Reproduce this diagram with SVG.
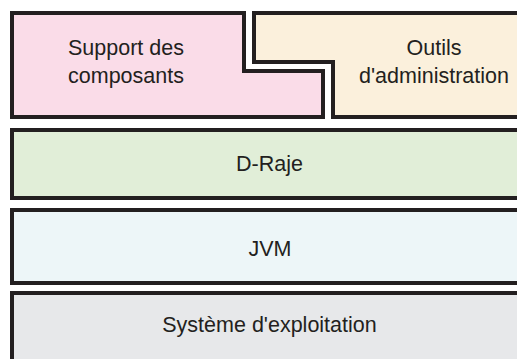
<svg xmlns="http://www.w3.org/2000/svg" width="517" height="359" viewBox="0 0 517 359">
  <style>
    .box { stroke: #231f20; stroke-width: 4; stroke-linejoin: miter; }
    .lbl { font-family: "Liberation Sans", Arial, Helvetica, sans-serif; font-size: 21.5px; fill: #231f20; text-anchor: middle; }
  </style>
  <rect width="517" height="359" fill="#ffffff"/>
  <g id="support-composants">
    <path class="box" fill="#fadce8" d="M12,13 H244 V71 H323 V117 H12 Z"/>
    <text class="lbl" x="126" y="55">Support des</text>
    <text class="lbl" x="126" y="83">composants</text>
  </g>
  <g id="outils-administration">
    <path class="box" fill="#fbf0dc" d="M254,13 H532 V117 H333 V62 H254 Z"/>
    <text class="lbl" x="434" y="55">Outils</text>
    <text class="lbl" x="434" y="83">d'administration</text>
  </g>
  <g id="d-raje">
    <rect class="box" fill="#e1eed8" x="12" y="130" width="520" height="68"/>
    <text class="lbl" x="269.5" y="171">D-Raje</text>
  </g>
  <g id="jvm">
    <rect class="box" fill="#edf6f8" x="12" y="210" width="520" height="73"/>
    <text class="lbl" x="270" y="256">JVM</text>
  </g>
  <g id="systeme-exploitation">
    <rect class="box" fill="#e7e8ea" x="12" y="293" width="520" height="80"/>
    <text class="lbl" x="269.5" y="332">Système d'exploitation</text>
  </g>
  <g id="connectors"/>
</svg>
